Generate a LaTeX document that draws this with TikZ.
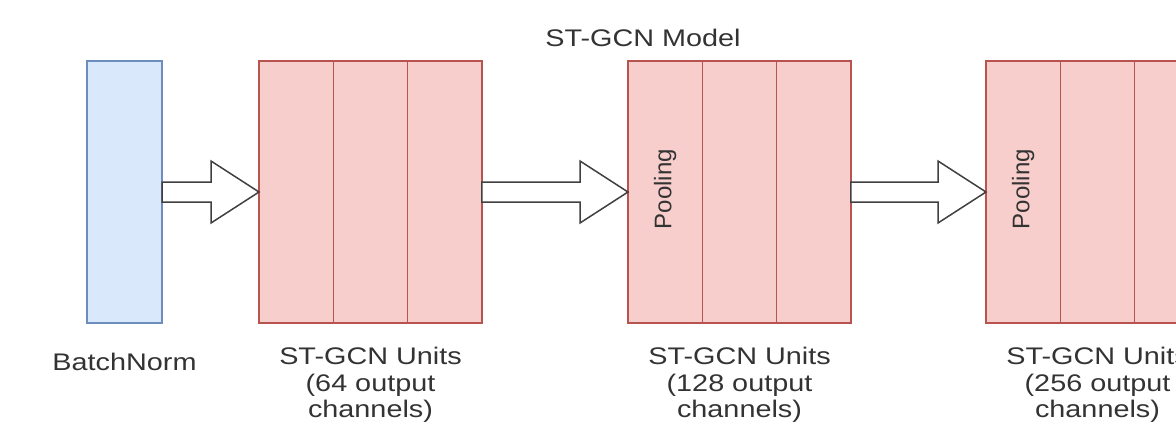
\documentclass[tikz,border=0pt]{standalone}
\usepackage{fontspec}
\usepackage{xcolor}
\usetikzlibrary{positioning,calc}
\newfontfamily\widesans[FakeStretch=1.2]{Liberation Sans}
\newfontfamily\plainsans{Liberation Sans}
\definecolor{bnfill}{HTML}{DAE8FC}
\definecolor{bnline}{HTML}{6C8EBF}
\definecolor{unitfill}{HTML}{F8CECC}
\definecolor{unitline}{HTML}{B85450}
\definecolor{txt}{HTML}{333333}
\tikzset{
  lbl/.style={font=\widesans\fontsize{24}{26.5}\selectfont, text=txt, align=center, inner sep=0pt},
  pool/.style={font=\plainsans\fontsize{24}{26.5}\selectfont, text=txt, rotate=90, inner sep=0pt},
  fat/.style={draw=black!75, line width=1.5pt, fill=white, line join=miter}
}
\newcommand{\fatarrow}[2]{%
  \path[fat] let \p1 = (#1.east), \p2 = (#2.west) in
    (\x1,\y2+10) -- (\x2-48,\y2+10) -- (\x2-48,\y2+31) -- (\x2,\y2)
    -- (\x2-48,\y2-31) -- (\x2-48,\y2-10) -- (\x1,\y2-10) -- cycle;}

\begin{document}
\begin{tikzpicture}[x=1pt, y=-1pt]
				\useasboundingbox (0,0) rectangle (1176,429);
				\clip (0,0) rectangle (1176,429);
				\begin{scope}[every node/.style = {rectangle, inner sep=0pt, outer sep=0pt,
						line width=1.2pt, minimum height=262pt},
					unit/.style={draw=unitline, fill=unitfill, minimum width=74.33pt}]
					\node[draw=bnline, fill=bnfill, minimum width=75pt, anchor=north west] (BN) at (87,61) {};
					\foreach \b/\x in {1/259, 2/628, 3/986} {
						\node[unit, anchor=north west] (U\b-1) at (\x,61) {};
						\node[unit, right=0pt of U\b-1] (U\b-2) {};
						\node[unit, right=0pt of U\b-2] (U\b-3) {};
					}
				\end{scope}
					\node[pool, xshift=3pt] (P2) at (U2-1) {Pooling};
					\node[pool, xshift=3pt] (P3) at (U3-1) {Pooling};
					\node[lbl] (T) at (643,38) {ST-GCN Model};
					\node[lbl, below=30pt of BN] (L0) {BatchNorm};
					\node[lbl, below=24pt of U1-2] (L1) {ST-GCN Units\\(64 output\\channels)};
					\node[lbl, below=24pt of U2-2] (L2) {ST-GCN Units\\(128 output\\channels)};
					\node[lbl, below=24pt of U3-2] (L3) {ST-GCN Units\\(256 output\\channels)};
					\fatarrow{BN}{U1-1}
					\fatarrow{U1-3}{U2-1}
					\fatarrow{U2-3}{U3-1}
			\end{tikzpicture}
\end{document}
